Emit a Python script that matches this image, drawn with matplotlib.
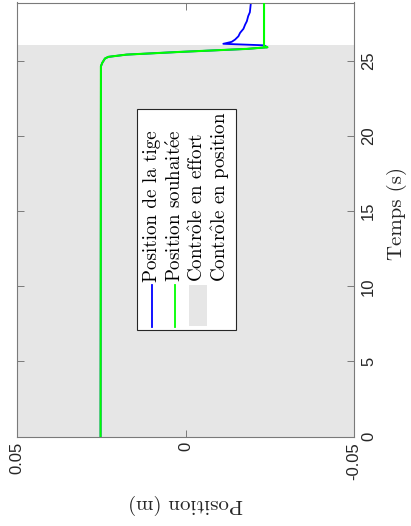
import matplotlib
matplotlib.use("Agg")
import matplotlib.pyplot as plt
from matplotlib.lines import Line2D
from matplotlib.patches import Rectangle

plt.rcParams["mathtext.fontset"] = "cm"

# Data (time in s, position in m)
t_desired = [0.0, 24.65, 24.88, 25.17, 25.28, 25.43, 25.61, 25.81, 25.92, 25.97, 28.9]
x_desired = [0.0252, 0.0251, 0.0247, 0.0239, 0.0229, 0.0175, 0.0016, -0.0182, -0.0243, -0.0233, -0.0233]

t_rod = [0.0, 24.65, 24.88, 25.17, 25.28, 25.43, 25.61, 25.81, 25.92, 26.05, 26.15,
         26.28, 26.43, 26.65, 26.88, 27.15, 27.43, 27.65, 27.99, 28.25, 28.88]
x_rod = [0.0252, 0.0251, 0.0247, 0.0239, 0.0229, 0.0175, 0.0016, -0.0182, -0.0243, -0.0233, -0.0112,
         -0.0137, -0.0147, -0.0157, -0.0162, -0.0172, -0.0177, -0.0182, -0.0186, -0.0191, -0.0194]

t_switch = 26.05          # end of force control phase
t_end = 28.9

pos_ticks = [0.05, 0.0, -0.05]
pos_ticklabels = ["0.05", "0", "-0.05"]
time_ticks = [0, 5, 10, 15, 20, 25]

# accents through mathtext, cmr10 has no ô / é
legend_labels = ["Position de la tige",
                 r"Position souhait$\acute{\mathrm{e}}$e",
                 r"Contr$\hat{\mathrm{o}}$le en effort",
                 r"Contr$\hat{\mathrm{o}}$le en position"]

BLUE = "#0000ff"
GREEN = "#00ff00"
SHADE = "#e6e6e6"
FRAME = "#7a7a7a"
TEXT = "#262626"
SERIF = ["cmr10", "DejaVu Serif"]

W, H = 411, 526


def px(x, y):
    """Pixel position (from top-left) to figure fraction."""
    return x / W, 1 - y / H


fig = plt.figure(figsize=(W / 100, H / 100), dpi=100)
ax = fig.add_axes([17 / W, 1 - 436.5 / H, (354 - 17) / W, (436.5 - 2.5) / H])

# Shaded force-control phase
ax.axhspan(0, t_switch, color=SHADE, lw=0, zorder=0)

ax.plot(x_rod, t_rod, color=BLUE, lw=1.3, zorder=2)
ax.plot(x_desired, t_desired, color=GREEN, lw=1.5, zorder=3)

ax.set_xlim(0.05, -0.05)
ax.set_ylim(0, t_end)

ax.set_xticks(pos_ticks)
ax.set_xticklabels(pos_ticklabels)
ax.set_yticks(time_ticks)
ax.yaxis.tick_right()
ax.tick_params(direction="in", length=5, width=0.7, color=FRAME,
               top=True, bottom=True, left=True, right=True,
               labelleft=False, labelright=True, labelsize=12, labelcolor=TEXT)
ax.tick_params(axis="x", labelrotation=90, pad=4)
ax.tick_params(axis="y", labelrotation=90, pad=5)
for lab in ax.get_xticklabels() + ax.get_yticklabels():
    lab.set_fontfamily("Liberation Sans")
for lab in ax.get_yticklabels():
    lab.set_verticalalignment("center")
for s in ax.spines.values():
    s.set_color(FRAME)
    s.set_linewidth(0.8)

# Axis labels (figure is drawn rotated by a quarter turn)
fig.text(*px(186, 504), "Position (m)", rotation=180, ha="center", va="center",
         fontsize=15, family=SERIF, color=TEXT)
fig.text(*px(397, 213), "Temps (s)", rotation=90, ha="center", va="center",
         fontsize=15, family=SERIF, color=TEXT)

# Legend, built by hand because it is rotated
x0, y0 = px(137, 330)
x1, y1 = px(236, 109)
fig.add_artist(Rectangle((x0, y0), x1 - x0, y1 - y0, transform=fig.transFigure,
                         facecolor="white", edgecolor="#262626", lw=0.8, zorder=5))
cols = [151.5, 175, 198, 221]
handles = [("line", BLUE), ("line", GREEN), ("patch", SHADE), ("patch", "white")]
for cx, (kind, col), label in zip(cols, handles, legend_labels):
    if kind == "line":
        xa, ya = px(cx, 327)
        xb, yb = px(cx, 285)
        fig.add_artist(Line2D([xa, xb], [ya, yb], transform=fig.transFigure,
                              color=col, lw=1.3, zorder=6))
    else:
        xa, ya = px(cx - 9, 326)
        xb, yb = px(cx + 9, 285)
        fig.add_artist(Rectangle((xa, ya), xb - xa, yb - ya, transform=fig.transFigure,
                                 facecolor=col, lw=0, zorder=6))
    fig.text(*px(cx, 282), label, rotation=90, ha="center", va="bottom",
             fontsize=13.7, family=SERIF, color="black", zorder=7)

fig.savefig("out.png", dpi=100)
